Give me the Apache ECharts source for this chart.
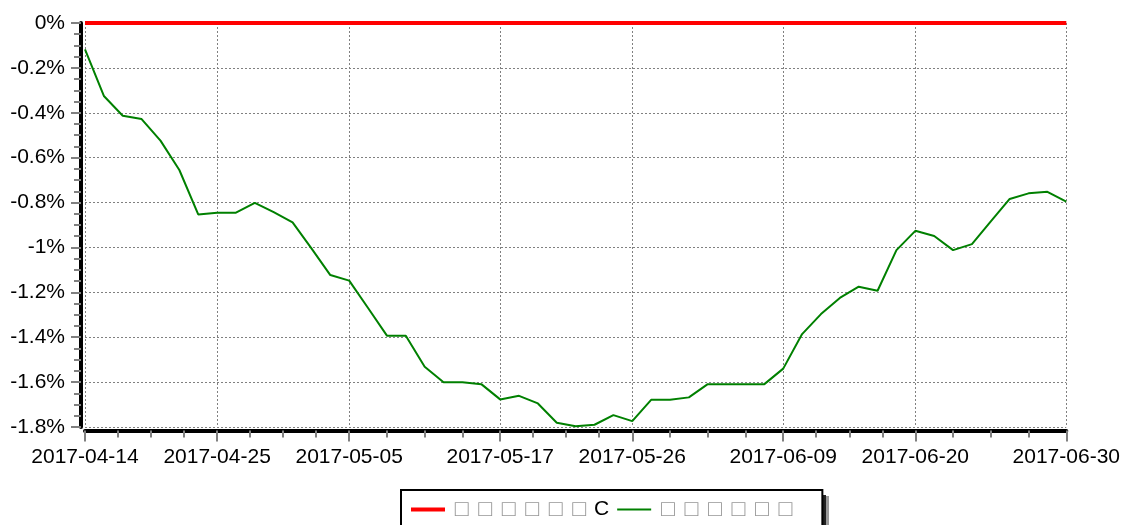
<!DOCTYPE html>
<html>
<head>
<meta charset="utf-8">
<script src="https://cdn.jsdelivr.net/npm/echarts@6/dist/echarts.min.js"></script>
<style>
  html, body { margin: 0; padding: 0; background: #fff; }
  #main { width: 1123px; height: 525px; }
</style>
</head>
<body>
<div id="main"></div>
<script>
// trading days shown on the x axis
var dates = [
    '2017-04-14', '2017-04-17', '2017-04-18', '2017-04-19', '2017-04-20', '2017-04-21',
    '2017-04-24', '2017-04-25', '2017-04-26', '2017-04-27', '2017-04-28',
    '2017-05-02', '2017-05-03', '2017-05-04', '2017-05-05',
    '2017-05-08', '2017-05-09', '2017-05-10', '2017-05-11', '2017-05-12',
    '2017-05-15', '2017-05-16', '2017-05-17', '2017-05-18', '2017-05-19',
    '2017-05-22', '2017-05-23', '2017-05-24', '2017-05-25', '2017-05-26',
    '2017-05-31', '2017-06-01', '2017-06-02',
    '2017-06-05', '2017-06-06', '2017-06-07', '2017-06-08', '2017-06-09',
    '2017-06-12', '2017-06-13', '2017-06-14', '2017-06-15', '2017-06-16',
    '2017-06-19', '2017-06-20', '2017-06-21', '2017-06-22', '2017-06-23',
    '2017-06-26', '2017-06-27', '2017-06-28', '2017-06-29', '2017-06-30'
];
var tick_dates = ['2017-04-14', '2017-04-25', '2017-05-05', '2017-05-17', '2017-05-26', '2017-06-09', '2017-06-20', '2017-06-30'];

var series_names = ['□□□□□□C', '□□□□□□'];

// values in %
var red_list = [
    0, 0, 0, 0, 0, 0, 0, 0, 0, 0, 0,
    0, 0, 0, 0, 0, 0, 0, 0, 0, 0, 0,
    0, 0, 0, 0, 0, 0, 0, 0, 0, 0, 0,
    0, 0, 0, 0, 0, 0, 0, 0, 0, 0, 0,
    0, 0, 0, 0, 0, 0, 0, 0, 0
];
var green_list = [
    -0.117, -0.325, -0.413, -0.428, -0.524, -0.655, -0.853, -0.845, -0.845, -0.801, -0.843,
    -0.888, -1.004, -1.123, -1.148, -1.27, -1.393, -1.393, -1.532, -1.601, -1.601, -1.609,
    -1.677, -1.661, -1.695, -1.781, -1.797, -1.790, -1.747, -1.774, -1.679, -1.679, -1.668,
    -1.609, -1.609, -1.609, -1.609, -1.540, -1.386, -1.297, -1.225, -1.175, -1.193,
    -1.012, -0.926, -0.949, -1.012, -0.985, -0.884, -0.784, -0.759, -0.752, -0.796
];

var y_labels = ['0%', '-0.2%', '-0.4%', '-0.6%', '-0.8%', '-1%', '-1.2%', '-1.4%', '-1.6%', '-1.8%'];

function toPairs(list){
    return list.map(function(v, i){ return [i, v]; });
}

var tickIdx = tick_dates.map(function(d){ return dates.indexOf(d); });
var minorIdx = [];
for (var k = 0; k < tickIdx.length - 1; k++) {
    var a = tickIdx[k], b = tickIdx[k + 1];
    for (var j = 1; j < 4; j++) minorIdx.push(a + (b - a) * j / 4);
}

function legendText(name){
    return name.split('').map(function(ch){
        return ch === '□' ? '{b|□}' : '{c|' + ch + '}';
    }).join('');
}

var chartDom = document.getElementById('main');
var myChart = echarts.init(chartDom, null, {renderer: 'canvas'});
var font = 'Liberation Sans';
var tickStyle = {color: '#808080', width: 2};
var noLine = {show: false, onZero: false};

var option = {
    animation: false,
    textStyle: {fontFamily: font},
    grid: {left: 85, right: 55, top: 23, bottom: 98},
    // drop shadow behind the legend box
    graphic: [
        {type: 'rect', z: 0, shape: {x: 406, y: 496, width: 423, height: 60}, style: {fill: '#9a9a9a'}},
        {type: 'rect', z: 1, shape: {x: 405, y: 495, width: 421, height: 60}, style: {fill: '#222'}}
    ],
    legend: {
        left: 401,
        top: 490,
        z: 5,
        padding: [8, 30, 30, 10],
        itemGap: 8,
        itemWidth: 34,
        itemHeight: 4,
        backgroundColor: '#fff',
        borderColor: '#000',
        borderWidth: 2,
        borderRadius: 0,
        itemStyle: {borderWidth: 0},
        data: [
            {name: series_names[0], icon: 'path://M0,0H34V4H0Z'},
            {name: series_names[1], icon: 'path://M0,0M0,4M0,1H34V3H0Z'}
        ],
        formatter: legendText,
        textStyle: {
            fontFamily: font,
            fontSize: 21,
            color: '#000',
            rich: {
                b: {width: 23.5, align: 'center', color: '#969696', fontSize: 23, fontFamily: font},
                c: {color: '#000', fontSize: 21, fontFamily: font, padding: [0, 0, 0, 3]}
            }
        }
    },
    xAxis: [
        {
            type: 'value',
            min: 0,
            max: dates.length - 1,
            position: 'bottom',
            offset: 3.5,
            axisLine: noLine,
            axisTick: {show: true, customValues: tickIdx, length: 11, lineStyle: tickStyle},
            axisLabel: {
                customValues: tickIdx,
                margin: 16,
                fontSize: 21,
                fontFamily: font,
                color: '#000',
                formatter: function(v){ return dates[Math.round(v)]; }
            },
            splitLine: {show: true, lineStyle: {color: '#808080', width: 1, type: [2, 2]}}
        },
        {
            type: 'value',
            min: 0,
            max: dates.length - 1,
            position: 'bottom',
            offset: 3.5,
            axisLine: noLine,
            axisTick: {show: true, customValues: minorIdx, length: 7, lineStyle: tickStyle},
            axisLabel: {show: false},
            splitLine: {show: false}
        },
        {
            type: 'value',
            min: 0,
            max: dates.length - 1,
            position: 'bottom',
            offset: 3.5,
            axisLine: {show: true, onZero: false, lineStyle: {color: '#000', width: 4}},
            axisTick: {show: false},
            axisLabel: {show: false},
            splitLine: {show: false}
        }
    ],
    yAxis: [
        {
            type: 'value',
            min: -1.8,
            max: 0,
            interval: 0.2,
            position: 'left',
            offset: 4,
            axisLine: noLine,
            axisTick: {show: true, length: 10, lineStyle: tickStyle},
            minorTick: {show: true, splitNumber: 4, length: 7, lineStyle: tickStyle},
            axisLabel: {
                margin: 16,
                fontSize: 21,
                fontFamily: font,
                color: '#000',
                formatter: function(v){ return y_labels[Math.round(-v / 0.2)]; }
            },
            splitLine: {show: true, lineStyle: {color: '#808080', width: 1, type: [2, 2]}}
        },
        {
            type: 'value',
            min: -1.8,
            max: 0,
            interval: 0.2,
            position: 'left',
            offset: 4,
            axisLine: {show: true, onZero: false, lineStyle: {color: '#000', width: 4}},
            axisTick: {show: false},
            axisLabel: {show: false},
            splitLine: {show: false}
        }
    ],
    series: [
        {
            name: series_names[1],
            type: 'line',
            symbol: 'none',
            data: toPairs(green_list),
            lineStyle: {color: '#008000', width: 2},
            itemStyle: {color: '#008000'},
            z: 2
        },
        {
            name: series_names[0],
            type: 'line',
            symbol: 'none',
            data: toPairs(red_list),
            lineStyle: {color: '#ff0000', width: 4},
            itemStyle: {color: '#ff0000'},
            z: 3
        }
    ]
};

option && myChart.setOption(option);
</script>
</body>
</html>
